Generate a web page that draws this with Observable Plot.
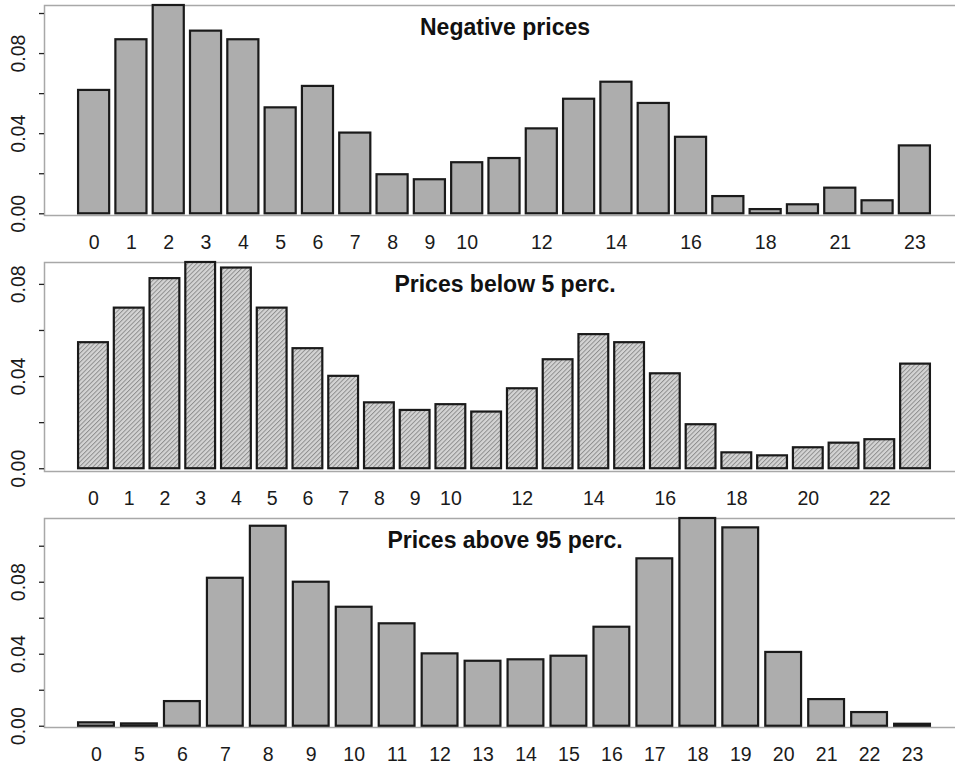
<!DOCTYPE html>
<html>
<head>
<meta charset="utf-8">
<script src="https://cdn.jsdelivr.net/npm/d3@7"></script>
<script src="https://cdn.jsdelivr.net/npm/@observablehq/plot@0.6"></script>
<style>
  html, body { margin: 0; padding: 0; background: #fff; overflow: hidden; }
  #chart svg { display: block; }
</style>
</head>
<body>
<div id="chart"></div>
<script>
// ---- Data (hour-of-day relative frequencies) ----
const hoursNegative = [0,1,2,3,4,5,6,7,8,9,10,11,12,13,14,15,16,17,18,20,21,22,23];
const valuesNegative = [0.0616,0.0869,0.1040,0.0912,0.0869,0.0529,0.0636,0.0403,0.0195,0.0170,0.0255,0.0276,0.0424,0.0572,0.0657,0.0551,0.0382,0.0086,0.0021,0.0045,0.0128,0.0065,0.0339];
const labelsNegative = [0,1,2,3,4,5,6,7,8,9,10,12,14,16,18,21,23];

const hoursBelow5 = [0,1,2,3,4,5,6,7,8,9,10,11,12,13,14,15,16,17,18,19,20,21,22,23];
const valuesBelow5 = [0.0547,0.0697,0.0825,0.0895,0.0871,0.0697,0.0521,0.0401,0.0286,0.0253,0.0278,0.0246,0.0347,0.0473,0.0582,0.0547,0.0412,0.0191,0.0069,0.0056,0.0091,0.0111,0.0126,0.0454];
const labelsBelow5 = [0,1,2,3,4,5,6,7,8,9,10,12,14,16,18,20,22];

const hoursAbove95 = [0,5,6,7,8,9,10,11,12,13,14,15,16,17,18,19,20,21,22,23];
const valuesAbove95 = [0.0019,0.0013,0.0137,0.0822,0.1111,0.0800,0.0661,0.0569,0.0402,0.0361,0.0369,0.0389,0.0550,0.0930,0.1154,0.1102,0.0410,0.0148,0.0076,0.0011];
const labelsAbove95 = hoursAbove95;

const titles = ["Negative prices", "Prices below 5 perc.", "Prices above 95 perc."];
const yTicksA = [0, 0.02, 0.04, 0.06, 0.08, 0.10];
const yTicksB = [0, 0.02, 0.04, 0.06, 0.08];
const yLabelTicks = [0, 0.04, 0.08];

const FONT = "'Liberation Sans', Arial, Helvetica, sans-serif";

function panel({hours, values, tickLabels, title, fill, yDomain, yTicks, height, marginTop, marginBottom}) {
  const n = hours.length;
  const data = hours.map((h, i) => ({hour: h, value: values[i]}));
  return Plot.plot({
    width: 955,
    height,
    marginLeft: 44,
    marginRight: -10,
    marginTop,
    marginBottom,
    style: {fontFamily: FONT, color: "#1a1a1a", background: "#fff", overflow: "hidden"},
    x: {type: "band", domain: hours, range: [44, 964], paddingInner: 1/6, paddingOuter: 0.04 * (n - 1/6), align: 0.5, round: false},
    y: {domain: yDomain},
    marks: [
      Plot.frame({stroke: "#a8a8a8", strokeWidth: 1.5}),
      Plot.barY(data, {x: "hour", y: "value", fill, stroke: "#1a1a1a", strokeWidth: 2.2, inset: 0}),
      Plot.axisY(yTicks, {tickSize: 5, tickFormat: () => "", stroke: "#222", strokeWidth: 1.3, label: null}),
      Plot.text(yLabelTicks, {y: d => d, text: d => d.toFixed(2), frameAnchor: "left", textAnchor: "middle", lineAnchor: "middle", dx: -26, rotate: -90, fontSize: 19.5, fill: "#1a1a1a"}),
      Plot.axisX(tickLabels, {tickSize: 0, tickPadding: 20, fontSize: 19.5, label: null, fill: "#1a1a1a"}),
      Plot.text([title], {frameAnchor: "top", dy: 13, fontSize: 23, fontWeight: "bold", fill: "#111"})
    ]
  });
}

const chart = document.getElementById("chart");

const p1 = panel({hours: hoursNegative, values: valuesNegative, tickLabels: labelsNegative, title: titles[0],
  fill: "#adadad", yDomain: [-0.00085, 0.104], yTicks: yTicksA, height: 256, marginTop: 5, marginBottom: 41});
const p2 = panel({hours: hoursBelow5, values: valuesBelow5, tickLabels: labelsBelow5, title: titles[1],
  fill: "url(#hatch)", yDomain: [-0.0012, 0.0895], yTicks: yTicksB, height: 256, marginTop: 6, marginBottom: 41});
const p3 = panel({hours: hoursAbove95, values: valuesAbove95, tickLabels: labelsAbove95, title: titles[2],
  fill: "#adadad", yDomain: [-0.0007, 0.1154], yTicks: yTicksA, height: 255, marginTop: 6, marginBottom: 40});

// hatch pattern for the second panel
const defs = d3.select(p2).insert("defs", ":first-child");
const pat = defs.append("pattern")
  .attr("id", "hatch").attr("patternUnits", "userSpaceOnUse")
  .attr("width", 3.2).attr("height", 3.2)
  .attr("patternTransform", "rotate(45)");
pat.append("rect").attr("width", 3.2).attr("height", 3.2).attr("fill", "#d4d4d4");
pat.append("line").attr("x1", 0.5).attr("y1", 0).attr("x2", 0.5).attr("y2", 3.2)
  .attr("stroke", "#888").attr("stroke-width", 0.9);

chart.append(p1, p2, p3);
</script>
</body>
</html>
